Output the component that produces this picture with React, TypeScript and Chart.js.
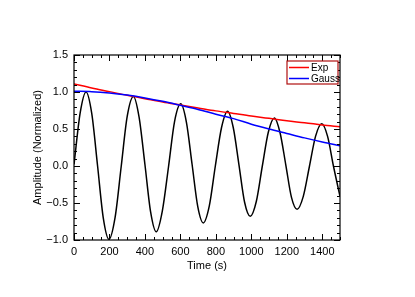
import { useEffect, useRef } from "react";
import { Chart, registerables } from "chart.js";

Chart.register(...registerables);

// Oscillating signal (time in s, normalized amplitude)
const signalTime = [
  0, 35, 68, 100, 133, 165, 197, 232, 266, 300, 335, 367, 400, 432, 464, 498,
  533, 567, 602, 634, 666, 698, 729, 763, 797, 832, 866, 898, 930, 962, 994,
  1028, 1062, 1096, 1130, 1162, 1194, 1226, 1258, 1293, 1328, 1362, 1397,
  1430, 1463, 1500,
];
const signalValue = [
  0.02, 0.72, 1.0, 0.71, 0.0, -0.7, -0.99, -0.69, -0.01, 0.67, 0.94, 0.66,
  0.02, -0.62, -0.89, -0.61, -0.01, 0.6, 0.84, 0.59, 0.02, -0.55, -0.77,
  -0.54, 0.0, 0.52, 0.74, 0.52, 0.02, -0.49, -0.68, -0.48, 0.0, 0.46, 0.65,
  0.45, 0.02, -0.42, -0.585, -0.41, 0.0, 0.4, 0.57, 0.4, 0.0, -0.41,
];

// Envelopes
const envTime = [0, 100, 200, 300, 400, 500, 600, 700, 800, 900, 1000, 1100, 1200, 1300, 1400, 1500];
const expValue = [1.11, 1.055, 1.005, 0.955, 0.91, 0.865, 0.825, 0.785, 0.745, 0.71, 0.675, 0.645, 0.61, 0.585, 0.555, 0.53];
const gaussValue = [1.01, 1.005, 0.987, 0.958, 0.92, 0.874, 0.82, 0.764, 0.7, 0.64, 0.565, 0.5, 0.44, 0.38, 0.325, 0.275];

const seriesLabels = ["Exp", "Gauss"];

// Axes
const xTicks = [0, 200, 400, 600, 800, 1000, 1200, 1400];
const xTickLabels = ["0", "200", "400", "600", "800", "1000", "1200", "1400"];
const yTicks = [-1.0, -0.5, 0.0, 0.5, 1.0, 1.5];
const yTickLabels = ["\u22121.0", "\u22120.5", "0.0", "0.5", "1.0", "1.5"];
const xMinorStep = 50;
const yMinorStep = 0.1;
const xTitle = "Time (s)";
const yTitle = "Amplitude (Normalized)";

const FONT = "'Liberation Sans', Arial, Helvetica, sans-serif";

const framePlugin = {
  id: "idlFrame",
  afterDatasetsDraw(chart: any) {
    const { ctx, chartArea: a, scales } = chart;
    const xs = scales.x;
    const ys = scales.y;
    ctx.save();
    ctx.strokeStyle = "#000";
    ctx.lineWidth = 1.2;
    ctx.strokeRect(a.left, a.top, a.right - a.left, a.bottom - a.top);
    ctx.lineWidth = 1;
    const major = 6;
    const minor = 3;
    ctx.beginPath();
    // x ticks (bottom and top, inward)
    for (let v = xs.min; v <= xs.max + 1e-9; v += xMinorStep) {
      const px = Math.round(xs.getPixelForValue(v)) + 0.5;
      const isMajor = xTicks.some((t) => Math.abs(t - v) < 1e-6);
      const len = isMajor ? major : minor;
      ctx.moveTo(px, a.bottom);
      ctx.lineTo(px, a.bottom - len);
      ctx.moveTo(px, a.top);
      ctx.lineTo(px, a.top + len);
    }
    // y ticks (left and right, inward)
    for (let i = 0; ; i++) {
      const v = ys.min + i * yMinorStep;
      if (v > ys.max + 1e-9) break;
      const py = Math.round(ys.getPixelForValue(v)) + 0.5;
      const isMajor = yTicks.some((t) => Math.abs(t - v) < 1e-6);
      const len = isMajor ? major : minor;
      ctx.moveTo(a.left, py);
      ctx.lineTo(a.left + len, py);
      ctx.moveTo(a.right, py);
      ctx.lineTo(a.right - len, py);
    }
    ctx.stroke();
    ctx.restore();
  },
  afterDraw(chart: any) {
    const { ctx, chartArea: a } = chart;
    const ds = chart.data.datasets.filter((d: any) => seriesLabels.includes(d.label));
    const w = 51;
    const h = 23;
    const right = a.right - 2;
    const left = right - w;
    const top = a.top + 6;
    ctx.save();
    ctx.fillStyle = "#fff";
    ctx.fillRect(left, top, w, h);
    ctx.strokeStyle = "#b01010";
    ctx.lineWidth = 1.2;
    ctx.strokeRect(left, top, w, h);
    ctx.font = `10px ${FONT}`;
    ctx.textBaseline = "middle";
    ctx.textAlign = "left";
    seriesLabels.forEach((lab, i) => {
      const d = ds.find((x: any) => x.label === lab);
      const yy = top + 6.5 + i * 11;
      ctx.strokeStyle = d.borderColor;
      ctx.lineWidth = 1.5;
      ctx.beginPath();
      ctx.moveTo(left + 2, yy);
      ctx.lineTo(left + 22, yy);
      ctx.stroke();
      ctx.fillStyle = "#000";
      ctx.fillText(lab, left + 24, yy + 0.5);
    });
    ctx.restore();
  },
};

export default function App() {
  const ref = useRef<HTMLCanvasElement | null>(null);

  useEffect(() => {
    document.body.style.margin = "0";
    const canvas = ref.current;
    if (!canvas) return;
    const chart = new Chart(canvas, {
      type: "line",
      data: {
        datasets: [
          {
            label: seriesLabels[0],
            data: envTime.map((t, i) => ({ x: t, y: expValue[i] })),
            borderColor: "rgb(255,0,0)",
            borderWidth: 1.5,
            pointRadius: 0,
            cubicInterpolationMode: "monotone",
            order: 2,
          },
          {
            label: seriesLabels[1],
            data: envTime.map((t, i) => ({ x: t, y: gaussValue[i] })),
            borderColor: "rgb(0,0,255)",
            borderWidth: 1.5,
            pointRadius: 0,
            cubicInterpolationMode: "monotone",
            order: 1,
          },
          {
            label: "Signal",
            data: signalTime.map((t, i) => ({ x: t, y: signalValue[i] })),
            borderColor: "#000",
            borderWidth: 1.5,
            pointRadius: 0,
            cubicInterpolationMode: "monotone",
            order: 3,
          },
        ],
      },
      options: {
        animation: false,
        responsive: false,
        devicePixelRatio: 1,
        layout: { padding: { left: 0, top: 55, right: 75, bottom: 0 } },
        plugins: { legend: { display: false }, tooltip: { enabled: false } },
        scales: {
          x: {
            type: "linear",
            min: 0,
            max: 1500,
            grid: { display: false, drawTicks: false },
            border: { display: false },
            afterBuildTicks: (s: any) => {
              s.ticks = xTicks.map((v) => ({ value: v }));
            },
            afterFit: (s: any) => {
              s.height = 57;
            },
            ticks: {
              autoSkip: false,
              maxRotation: 0,
              padding: 5,
              color: "#000",
              font: { family: FONT, size: 11 },
              callback: (v: any) => {
                const i = xTicks.indexOf(Number(v));
                return i >= 0 ? xTickLabels[i] : "";
              },
            },
            title: {
              display: true,
              text: xTitle,
              color: "#000",
              font: { family: FONT, size: 11 },
              padding: { top: 0, bottom: 24 },
            },
          },
          y: {
            type: "linear",
            min: -1,
            max: 1.5,
            grid: { display: false, drawTicks: false },
            border: { display: false },
            afterBuildTicks: (s: any) => {
              s.ticks = yTicks.map((v) => ({ value: v }));
            },
            afterFit: (s: any) => {
              s.width = 74;
            },
            ticks: {
              autoSkip: false,
              padding: 6,
              color: "#000",
              font: { family: FONT, size: 11 },
              callback: (v: any) => {
                const i = yTicks.findIndex((t) => Math.abs(t - Number(v)) < 1e-6);
                return i >= 0 ? yTickLabels[i] : "";
              },
            },
            title: {
              display: true,
              text: yTitle,
              color: "#000",
              font: { family: FONT, size: 11 },
              padding: { top: 31, bottom: 0 },
            },
          },
        },
      },
      plugins: [framePlugin],
    });
    return () => chart.destroy();
  }, []);

  return (
    <div style={{ position: "absolute", left: 0, top: 0, width: 415, height: 297, background: "#fff" }}>
      <canvas ref={ref} width={415} height={297} style={{ display: "block" }} />
    </div>
  );
}
